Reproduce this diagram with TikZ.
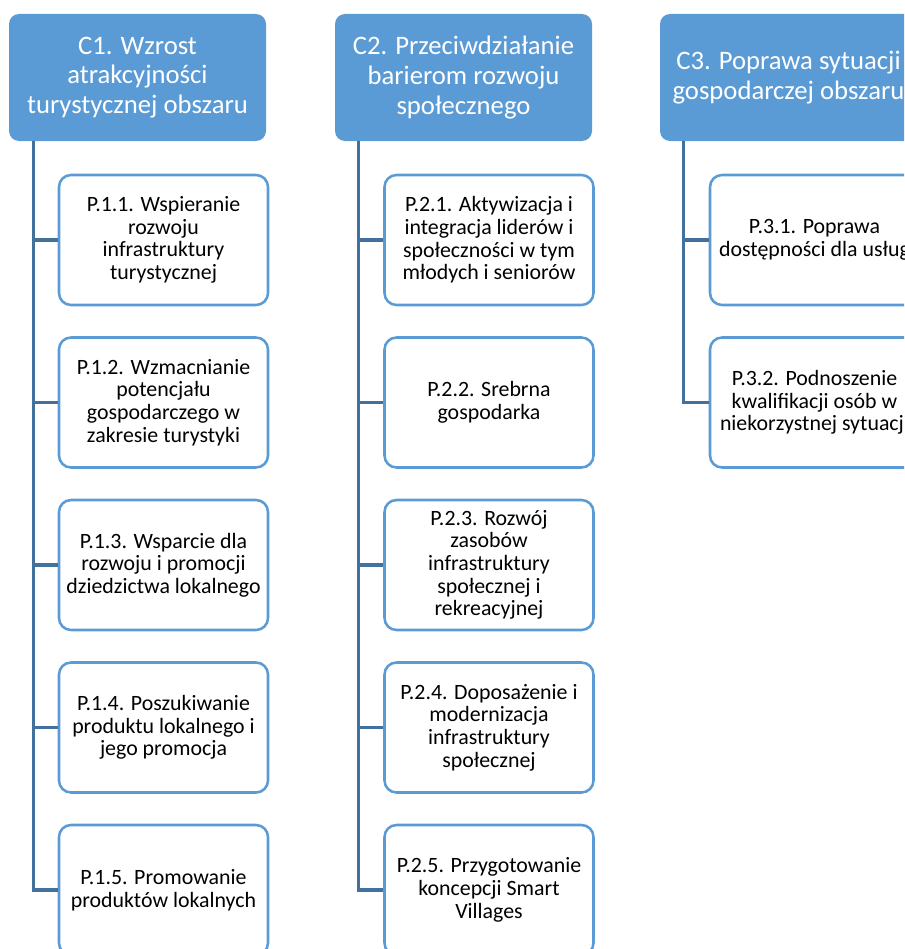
\documentclass[tikz,border=0pt]{standalone}
\usepackage{fontspec}
\setmainfont{Carlito}
\definecolor{celblue}{HTML}{5B9BD5}
\definecolor{linkblue}{HTML}{41719C}
\tikzset{
  cel/.style={fill=celblue, text=white, rounded corners=7.5pt, minimum width=192.75pt, minimum height=95.25pt, align=center, inner sep=2pt, font=\fontsize{20}{22.3}\selectfont},
  priorytet/.style={draw=celblue, line width=1.9pt, fill=white, rounded corners=9pt, minimum width=156.75pt, minimum height=97.5pt, align=center, inner sep=2pt, font=\fontsize{16.4}{17}\selectfont},
  link/.style={draw=linkblue, line width=2.4pt}
}
\begin{document}
\begin{tikzpicture}[x=0.75pt, y=-0.75pt]
\useasboundingbox (0,0) rectangle (904,949);
\clip (0,0) rectangle (904,949);
% cele
\node[cel] (c1) at (137.5,77.5) {C1. Wzrost\\atrakcyjności\\turystycznej obszaru};
\node[cel] (c2) at (463.5,77.5) {C2. Przeciwdziałanie\\barierom rozwoju\\społecznego};
\node[cel] (c3) at (788.5,77.5) {C3. Poprawa sytuacji\\gospodarczej obszaru};

% priorytety C1
\node[priorytet] (p11) at (163.5,240) {P.1.1. Wspieranie\\rozwoju\\infrastruktury\\turystycznej};
\node[priorytet] (p12) at (163.5,402.5) {P.1.2. Wzmacnianie\\potencjału\\gospodarczego w\\zakresie turystyki};
\node[priorytet] (p13) at (163.5,565) {P.1.3. Wsparcie dla\\rozwoju i promocji\\dziedzictwa lokalnego};
\node[priorytet] (p14) at (163.5,727.5) {P.1.4. Poszukiwanie\\produktu lokalnego i\\jego promocja};
\node[priorytet] (p15) at (163.5,890) {P.1.5. Promowanie\\produktów lokalnych};

% priorytety C2
\node[priorytet] (p21) at (489,240) {P.2.1. Aktywizacja i\\integracja liderów i\\społeczności w tym\\młodych i seniorów};
\node[priorytet] (p22) at (489,402.5) {P.2.2. Srebrna\\gospodarka};
\node[priorytet] (p23) at (489,565) {P.2.3. Rozwój\\zasobów\\infrastruktury\\społecznej i\\rekreacyjnej};
\node[priorytet] (p24) at (489,727.5) {P.2.4. Doposażenie i\\modernizacja\\infrastruktury\\społecznej};
\node[priorytet] (p25) at (489,890) {P.2.5. Przygotowanie\\koncepcji Smart\\Villages};

% priorytety C3
\node[priorytet] (p31) at (814.5,240) {P.3.1. Poprawa\\dostępności dla usług};
\node[priorytet] (p32) at (814.5,402.5) {P.3.2. Podnoszenie\\kwalifikacji osób w\\niekorzystnej sytuacji};

\foreach \k in {1,...,5}{
  \draw[link] ([xshift=18.75pt]c1.south west) |- (p1\k.west);
  \draw[link] ([xshift=18pt]c2.south west) |- (p2\k.west);
}
\foreach \k in {1,2}
  \draw[link] ([xshift=18pt]c3.south west) |- (p3\k.west);

\end{tikzpicture}
\end{document}
